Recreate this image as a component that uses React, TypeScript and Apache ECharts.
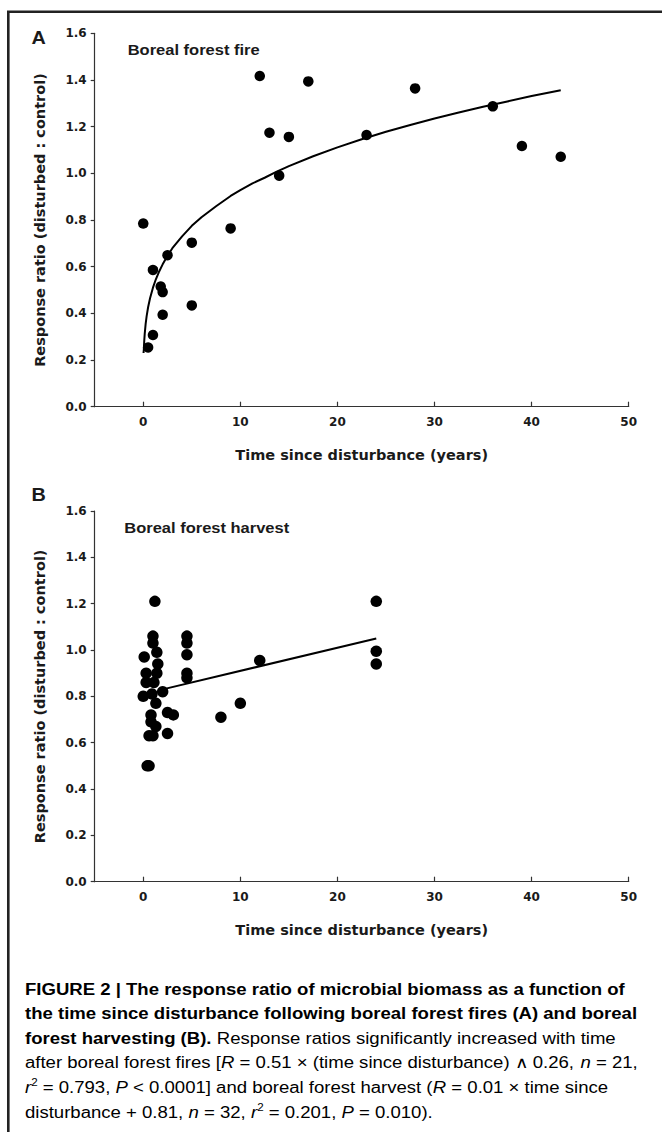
import React, { useEffect, useRef } from "react";
import * as echarts from "echarts";

// Panel A: boreal forest fire (time since disturbance, response ratio)
const fireTime = [0, 0.5, 1, 1, 1.8, 2, 2, 2.5, 5, 5, 9, 12, 13, 14, 15, 17, 23, 28, 36, 39, 43];
const fireRatio = [0.785, 0.254, 0.586, 0.307, 0.515, 0.491, 0.394, 0.649, 0.703, 0.434, 0.764, 1.417, 1.174, 0.99, 1.156, 1.394, 1.164, 1.364, 1.287, 1.117, 1.071];
// fitted curve
const fireFitTime = [0.03, 0.06, 0.1, 0.15, 0.25, 0.35, 0.5, 0.7, 1, 1.3, 1.6, 2, 2.5, 3, 4, 5, 6, 7.5, 9, 10, 11.25, 12.5, 13.75, 15, 17.5, 20, 22.5, 25, 27.5, 30, 32.5, 35, 37.5, 40, 43];
const fireFitRatio = [0.23, 0.245, 0.28, 0.311, 0.356, 0.388, 0.426, 0.465, 0.51, 0.546, 0.576, 0.61, 0.647, 0.679, 0.73, 0.775, 0.812, 0.859, 0.903, 0.928, 0.957, 0.981, 1.007, 1.031, 1.073, 1.111, 1.146, 1.178, 1.207, 1.235, 1.261, 1.285, 1.308, 1.331, 1.356];

// Panel B: boreal forest harvest
const harvestTime = [0.1, 0.3, 0.3, 0.0, 0.4, 0.6, 1.0, 1.0, 1.4, 1.5, 1.4, 1.1, 0.9, 1.3, 0.8, 0.8, 1.3, 0.6, 1.0, 1.2, 2.0, 2.5, 3.1, 2.5, 4.5, 4.5, 4.5, 4.5, 4.5, 8, 10, 12, 24, 24, 24];
const harvestRatio = [0.97, 0.9, 0.86, 0.8, 0.5, 0.5, 1.06, 1.03, 0.99, 0.94, 0.9, 0.86, 0.81, 0.77, 0.72, 0.69, 0.67, 0.63, 0.63, 1.21, 0.82, 0.73, 0.72, 0.64, 1.06, 1.03, 0.98, 0.9, 0.88, 0.71, 0.77, 0.955, 1.21, 0.995, 0.94];
const harvestFitTime = [2, 24];
const harvestFitRatio = [0.83, 1.05];

const xTickValues = [0, 10, 20, 30, 40, 50];
const xMin = -5;
const xMax = 50;
const yMin = 0;
const yMax = 1.6;
const yInterval = 0.2;

const panelLetters = ["A", "B"];
const panelTitles = ["Boreal forest fire", "Boreal forest harvest"];
const xTitle = "Time since disturbance (years)";
const yTitle = "Response ratio (disturbed : control)";

const captionLines = [
  "{b|FIGURE 2 | The response ratio of microbial biomass as a function of}",
  "{b|the time since disturbance following boreal forest fires (A) and boreal}",
  "{b|forest harvesting (B).}{n| Response ratios significantly increased with time}",
  "{n|after boreal forest fires [}{i|R}{n| = 0.51 × (time since disturbance) ∧ 0.26, }{i|n}{n| = 21,}",
  "{i|r}{sup|2}{n| = 0.793, }{i|P}{n| < 0.0001] and boreal forest harvest (}{i|R}{n| = 0.01 × time since}",
  "{n|disturbance + 0.81, }{i|n}{n| = 32, }{i|r}{sup|2}{n| = 0.201, }{i|P}{n| = 0.010).}",
];

const zip = (a: number[], b: number[]) => a.map((v, i) => [v, b[i]]);

const AXIS_FONT = "DejaVu Sans";
const TEXT_COLOR = "#1a1a1a";

function makeXAxis(gridIndex: number, nameGap: number) {
  return {
    type: "value",
    gridIndex,
    min: xMin,
    max: xMax,
    name: xTitle,
    nameLocation: "middle",
    nameGap,
    nameTextStyle: { fontFamily: AXIS_FONT, fontWeight: "bold", fontSize: 14.5, color: TEXT_COLOR },
    axisLine: { show: true, onZero: false, lineStyle: { color: "#333", width: 1.2 } },
    axisTick: { show: true, inside: true, length: 5, customValues: xTickValues, lineStyle: { color: "#333", width: 1.2 } },
    axisLabel: { customValues: xTickValues, margin: 9, fontFamily: AXIS_FONT, fontWeight: "bold", fontSize: 12, color: TEXT_COLOR },
    splitLine: { show: false },
  };
}

function makeYAxis(gridIndex: number) {
  return {
    type: "value",
    gridIndex,
    min: yMin,
    max: yMax,
    interval: yInterval,
    name: yTitle,
    nameLocation: "middle",
    nameGap: 47,
    nameRotate: 90,
    nameTextStyle: { fontFamily: AXIS_FONT, fontWeight: "bold", fontSize: 14.5, color: TEXT_COLOR },
    axisLine: { show: true, onZero: false, lineStyle: { color: "#333", width: 1.2 } },
    axisTick: { show: true, inside: false, length: 4, lineStyle: { color: "#333", width: 1.2 } },
    axisLabel: {
      margin: 8,
      fontFamily: AXIS_FONT,
      fontWeight: "bold",
      fontSize: 12,
      color: TEXT_COLOR,
      formatter: (v: number) => v.toFixed(1),
    },
    splitLine: { show: false },
  };
}

export default function App() {
  const ref = useRef<HTMLDivElement>(null);

  useEffect(() => {
    document.body.style.margin = "0";
    if (!ref.current) return;
    const chart = echarts.init(ref.current, undefined, { renderer: "svg" });

    const captionGraphics = captionLines.map((line, i) => ({
      type: "text",
      x: 25,
      y: [989.3, 1013.5, 1038.3, 1062.7, 1087.7, 1112.7][i],
      scaleX: 1.16,
      style: {
        text: line,
        x: 0,
        y: 0,
        verticalAlign: "middle",
        align: "left",
        rich: {
          b: { fontFamily: "Liberation Sans", fontWeight: "bold", fontSize: 16, color: "#231f20", lineHeight: 20 },
          n: { fontFamily: "Liberation Sans", fontWeight: "normal", fontSize: 16, color: "#444", lineHeight: 20 },
          i: { fontFamily: "Liberation Sans", fontStyle: "italic", fontWeight: "normal", fontSize: 16, color: "#444", lineHeight: 20 },
          sup: { fontFamily: "Liberation Sans", fontWeight: "normal", fontSize: 10, color: "#444", lineHeight: 11, verticalAlign: "top" },
        },
      },
    }));

    const letterStyle = { fontFamily: "Liberation Sans", fontWeight: "bold", fontSize: 18, fill: TEXT_COLOR };
    const titleStyle = { fontFamily: "Liberation Sans", fontWeight: "bold", fontSize: 15, fill: TEXT_COLOR };

    const option = {
      animation: false,
      backgroundColor: "#ffffff",
      grid: [
        { left: 94.7, top: 33.3, width: 534, height: 373.4 },
        { left: 94.7, top: 511, width: 534, height: 370.7 },
      ],
      xAxis: [makeXAxis(0, 41), makeXAxis(1, 41)],
      yAxis: [makeYAxis(0), makeYAxis(1)],
      series: [
        {
          type: "line",
          xAxisIndex: 0,
          yAxisIndex: 0,
          data: zip(fireFitTime, fireFitRatio),
          smooth: false,
          showSymbol: false,
          lineStyle: { color: "#000", width: 2 },
          z: 2,
        },
        {
          type: "scatter",
          xAxisIndex: 0,
          yAxisIndex: 0,
          data: zip(fireTime, fireRatio),
          symbol: "circle",
          symbolSize: 10.5,
          itemStyle: { color: "#000", opacity: 1 },
          z: 3,
        },
        {
          type: "line",
          xAxisIndex: 1,
          yAxisIndex: 1,
          data: zip(harvestFitTime, harvestFitRatio),
          showSymbol: false,
          lineStyle: { color: "#000", width: 2 },
          z: 2,
        },
        {
          type: "scatter",
          xAxisIndex: 1,
          yAxisIndex: 1,
          data: zip(harvestTime, harvestRatio),
          symbol: "circle",
          symbolSize: 11.5,
          itemStyle: { color: "#000", opacity: 1 },
          z: 3,
        },
      ],
      graphic: [
        {
          type: "rect",
          shape: { x: 8.3, y: 11.7, width: 720, height: 1200 },
          style: { fill: "none", stroke: "#222", lineWidth: 2.6 },
          silent: true,
        },
        {
          type: "text",
          x: 31.5,
          y: 38,
          scaleX: 1.1,
          style: { text: panelLetters[0], x: 0, y: 0, verticalAlign: "middle", ...letterStyle },
        },
        {
          type: "text",
          x: 31.5,
          y: 495,
          scaleX: 1.1,
          style: { text: panelLetters[1], x: 0, y: 0, verticalAlign: "middle", ...letterStyle },
        },
        {
          type: "text",
          x: 127.7,
          y: 49.3,
          scaleX: 1.1,
          style: { text: panelTitles[0], x: 0, y: 0, verticalAlign: "middle", ...titleStyle },
        },
        {
          type: "text",
          x: 124.3,
          y: 527.7,
          scaleX: 1.1,
          style: { text: panelTitles[1], x: 0, y: 0, verticalAlign: "middle", ...titleStyle },
        },
        ...captionGraphics,
      ],
    };

    chart.setOption(option as any);
    return () => {
      chart.dispose();
    };
  }, []);

  return <div ref={ref} style={{ width: 662, height: 1132 }} />;
}
